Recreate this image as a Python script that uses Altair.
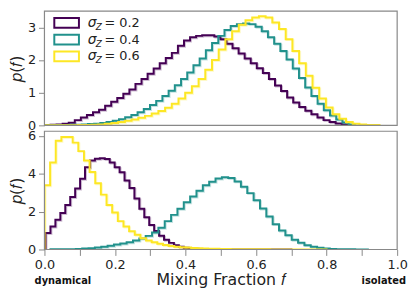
import altair as alt
import numpy as np
import pandas as pd

series_names = ["0.2", "0.4", "0.6"]
colors = ["#440154", "#21918c", "#fde725"]

# ---- top panel: bin ranges and heights (50 bins each) ----
top_ranges = [(0.0, 0.86), (0.0, 0.88), (0.0, 0.95)]
top_s02 = [0.01, 0.02, 0.03, 0.05, 0.08, 0.16, 0.24, 0.32, 0.4, 0.48,
           0.6, 0.72, 0.84, 0.97, 1.1, 1.27, 1.42, 1.58, 1.74, 1.9,
           2.06, 2.22, 2.44, 2.6, 2.7, 2.74, 2.76, 2.76, 2.72, 2.64,
           2.5, 2.36, 2.2, 2.05, 1.9, 1.75, 1.6, 1.42, 1.22, 1.05,
           0.85, 0.7, 0.56, 0.45, 0.34, 0.24, 0.16, 0.1, 0.06, 0.03]
top_s04 = [0.0, 0.0, 0.01, 0.01, 0.02, 0.02, 0.03, 0.04, 0.05, 0.07,
           0.1, 0.14, 0.19, 0.25, 0.32, 0.4, 0.5, 0.62, 0.75, 0.9,
           1.06, 1.23, 1.42, 1.62, 1.84, 2.05, 2.3, 2.52, 2.74, 2.92,
           3.04, 3.1, 3.12, 3.1, 3.02, 2.88, 2.7, 2.5, 2.28, 2.02,
           1.74, 1.45, 1.16, 0.9, 0.66, 0.46, 0.3, 0.18, 0.09, 0.03]
top_s06 = [0.0, 0.0, 0.0, 0.0, 0.0, 0.01, 0.01, 0.02, 0.03, 0.05,
           0.07, 0.1, 0.14, 0.18, 0.23, 0.29, 0.36, 0.44, 0.54, 0.66,
           0.82, 1.0, 1.2, 1.42, 1.7, 2.0, 2.32, 2.64, 2.88, 3.08,
           3.22, 3.3, 3.34, 3.3, 3.15, 2.95, 2.64, 2.28, 1.9, 1.52,
           1.15, 0.82, 0.55, 0.34, 0.2, 0.1, 0.05, 0.03, 0.01, 0.01]

# ---- bottom panel ----
bot_ranges = [(0.003, 0.703), (0.017, 0.917), (0.0, 0.8)]
bot_s02 = [0.87, 1.22, 1.57, 1.93, 2.35, 2.78, 3.22, 3.74, 4.35, 4.7,
           4.8, 4.82, 4.78, 4.6, 4.35, 4.08, 3.65, 3.25, 2.7, 2.15,
           1.7, 1.3, 0.98, 0.73, 0.52, 0.35, 0.22, 0.14, 0.09, 0.06,
           0.04, 0.03, 0.02, 0.015, 0.01, 0.008, 0.006, 0.005, 0.004, 0.003,
           0.003, 0.002, 0.002, 0.001, 0.001, 0.001, 0.001, 0.0, 0.0, 0.0]
bot_s04 = [0.01, 0.01, 0.02, 0.02, 0.03, 0.05, 0.07, 0.1, 0.14, 0.2,
           0.26, 0.32, 0.38, 0.47, 0.58, 0.72, 0.9, 1.15, 1.5, 1.83,
           2.15, 2.5, 2.8, 3.1, 3.4, 3.58, 3.75, 3.82, 3.78, 3.6,
           3.32, 2.98, 2.6, 2.17, 1.74, 1.34, 1.0, 0.75, 0.52, 0.36,
           0.23, 0.14, 0.09, 0.05, 0.03, 0.02, 0.01, 0.01, 0.005, 0.005]
bot_s06 = [3.4, 4.6, 5.75, 5.95, 5.95, 5.65, 5.2, 4.7, 4.1, 3.5,
           2.9, 2.35, 1.95, 1.5, 1.22, 0.96, 0.78, 0.6, 0.48, 0.38,
           0.3, 0.24, 0.19, 0.15, 0.12, 0.1, 0.08, 0.06, 0.05, 0.04,
           0.035, 0.03, 0.025, 0.02, 0.02, 0.015, 0.012, 0.01, 0.01, 0.008,
           0.006, 0.005, 0.004, 0.003, 0.003, 0.002, 0.002, 0.001, 0.001, 0.001]

x_ticks = [0.0, 0.1, 0.2, 0.3, 0.4, 0.5, 0.6, 0.7, 0.8, 0.9, 1.0]
top_yticks = [0, 1, 2, 3]
bot_yticks = [0, 2, 4, 6]

FONT = "DejaVu Sans"
W = 358
H_TOP = 116
H_BOT = 120
FRAME = "#888888"


def step_outline(lo, hi, vals, name):
    edges = np.linspace(lo, hi, len(vals) + 1)
    xs = [edges[0]]
    ys = [0.0]
    for i, v in enumerate(vals):
        xs += [edges[i], edges[i + 1]]
        ys += [v, v]
    xs.append(edges[-1])
    ys.append(0.0)
    return pd.DataFrame({"f": xs, "p": ys, "i": range(len(xs)), "s": name})


def panel(ranges, datas, ymax, yticks, height, bottom):
    xscale = alt.Scale(domain=[0, 1], nice=False, zero=False)
    yscale = alt.Scale(domain=[0, ymax], nice=False)
    if bottom:
        xaxis = alt.Axis(values=x_ticks, title="Mixing Fraction 𝑓",
                         labelExpr="round(datum.value*10) % 2 == 0 ? format(datum.value, '.1f') : ''",
                         grid=False, domain=False, tickSize=6, tickColor=FRAME,
                         labelFontSize=13, labelPadding=3, labelColor="#222222",
                         titleFontSize=16, titlePadding=1, titleFontWeight="normal",
                         titleColor="#222222", labelFlush=False)
    else:
        xaxis = None
    yaxis = alt.Axis(values=yticks, title="𝑝(𝑓)", grid=False, domain=False,
                     tickSize=6, tickColor=FRAME, labelFontSize=13,
                     labelPadding=3, labelColor="#222222", titleFontSize=16,
                     titleFontWeight="normal", titlePadding=3, titleColor="#222222")
    layers = []
    for (lo, hi), vals, name, col in zip(ranges, datas, series_names, colors):
        df = step_outline(lo, hi, vals, name)
        enc = dict(x=alt.X("f:Q", scale=xscale, axis=xaxis),
                   y=alt.Y("p:Q", scale=yscale, axis=yaxis),
                   order=alt.Order("i:Q"))
        layers.append(alt.Chart(df).mark_line(color=col, strokeWidth=2, opacity=0.25,
                                              xOffset=1, yOffset=1, clip=True).encode(**enc))
        layers.append(alt.Chart(df).mark_line(color=col, strokeWidth=2,
                                              clip=True).encode(**enc))
    # panel frame
    frame_df = pd.DataFrame({"k": [0]})
    layers.append(alt.Chart(frame_df).mark_rect(filled=False, stroke=FRAME, strokeWidth=1.2).encode(
        x=alt.value(0), x2=alt.value(W), y=alt.value(0), y2=alt.value(height)))
    return layers


top_layers = panel(top_ranges, [top_s02, top_s04, top_s06], 3.5, top_yticks, H_TOP, False)
bot_layers = panel(bot_ranges, [bot_s02, bot_s04, bot_s06], 6.25, bot_yticks, H_BOT, True)

# legend drawn inside the top panel
leg_df = pd.DataFrame({"s": series_names})
for k, (name, col) in enumerate(zip(series_names, colors)):
    yc = 12 + 17 * k
    one = alt.Chart(leg_df.iloc[[k]])
    top_layers.append(one.mark_rect(filled=False, stroke=col, strokeWidth=2).encode(
        x=alt.value(10), x2=alt.value(35), y=alt.value(yc - 5), y2=alt.value(yc + 5)))
    top_layers.append(one.mark_text(font=FONT, fontSize=14, fontStyle="italic", align="left",
                                    baseline="middle", color="#222222").encode(
        x=alt.value(44), y=alt.value(yc), text=alt.value("σ")))
    top_layers.append(one.mark_text(font=FONT, fontSize=9, fontStyle="italic", align="left",
                                    baseline="middle", color="#222222").encode(
        x=alt.value(52), y=alt.value(yc + 4), text=alt.value("Z")))
    top_layers.append(one.mark_text(font=FONT, fontSize=13, align="left",
                                    baseline="middle", color="#222222").encode(
        x=alt.value(61), y=alt.value(yc), text=alt.value("= " + name)))

ann_df = pd.DataFrame({"t": ["dynamical", "isolated"]})
bot_layers.append(alt.Chart(ann_df.iloc[[0]]).mark_text(
    font=FONT, fontSize=10, fontWeight="bold", align="left", baseline="middle", color="#111111"
).encode(x=alt.value(-10), y=alt.value(H_BOT + 32), text="t:N"))
bot_layers.append(alt.Chart(ann_df.iloc[[1]]).mark_text(
    font=FONT, fontSize=10, fontWeight="bold", align="right", baseline="middle", color="#111111"
).encode(x=alt.value(367), y=alt.value(H_BOT + 32), text="t:N"))

top = alt.layer(*top_layers).properties(width=W, height=H_TOP)
bot = alt.layer(*bot_layers).properties(width=W, height=H_BOT)

chart = alt.vconcat(top, bot, spacing=6, bounds="flush").properties(
    padding={"left": 0, "top": 0, "right": 0, "bottom": 0}
).configure(font=FONT).configure_view(stroke=None)

chart.save("out.html", embed_options={"renderer": "svg", "actions": False})
